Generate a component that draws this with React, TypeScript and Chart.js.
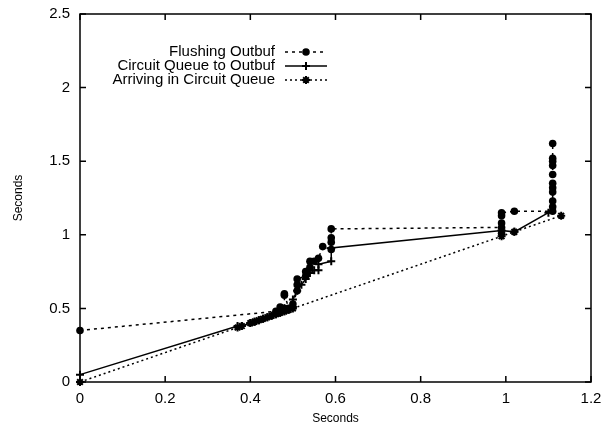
import React, { useEffect, useRef } from 'react';
import { Chart, registerables } from 'chart.js';

Chart.register(...registerables);

// ---- data ----
const seriesNames = ['Flushing Outbuf', 'Circuit Queue to Outbuf', 'Arriving in Circuit Queue'];

const flushingX = [0, 0.46, 0.47, 0.47, 0.48, 0.48, 0.48, 0.49, 0.50, 0.51, 0.51, 0.51, 0.53, 0.53, 0.54, 0.54, 0.55, 0.56, 0.57, 0.59, 0.59, 0.59, 0.59, 0.99, 0.99, 0.99, 0.99, 0.99, 1.02, 1.11, 1.11, 1.11, 1.11, 1.11, 1.11, 1.11, 1.11, 1.11, 1.11, 1.11];
const flushingY = [0.35, 0.48, 0.49, 0.51, 0.50, 0.59, 0.60, 0.50, 0.53, 0.62, 0.66, 0.70, 0.72, 0.75, 0.78, 0.82, 0.82, 0.84, 0.92, 0.90, 0.95, 0.98, 1.04, 1.05, 1.01, 1.08, 1.13, 1.15, 1.16, 1.16, 1.19, 1.23, 1.29, 1.32, 1.35, 1.41, 1.47, 1.50, 1.52, 1.62];

const queueX = [0, 0.37, 0.38, 0.40, 0.41, 0.42, 0.43, 0.44, 0.45, 0.46, 0.47, 0.48, 0.49, 0.50, 0.50, 0.51, 0.52, 0.53, 0.54, 0.55, 0.56, 0.56, 0.59, 0.59, 0.99, 1.02, 1.10];
const queueY = [0.05, 0.38, 0.38, 0.40, 0.41, 0.42, 0.43, 0.44, 0.45, 0.46, 0.47, 0.48, 0.49, 0.51, 0.56, 0.62, 0.66, 0.70, 0.74, 0.76, 0.76, 0.80, 0.82, 0.91, 1.03, 1.02, 1.15];

const arrivingX = [0, 0.37, 0.38, 0.40, 0.41, 0.42, 0.43, 0.44, 0.45, 0.46, 0.47, 0.48, 0.49, 0.50, 0.99, 1.02, 1.13];
const arrivingY = [0, 0.37, 0.38, 0.40, 0.41, 0.42, 0.43, 0.44, 0.45, 0.46, 0.47, 0.48, 0.49, 0.50, 0.99, 1.02, 1.13];

const xTickValues = [0, 0.2, 0.4, 0.6, 0.8, 1, 1.2];
const yTickValues = [0, 0.5, 1, 1.5, 2, 2.5];
const xTitle = 'Seconds';
const yTitle = 'Seconds';

const FONT = "'Liberation Sans', Arial, Helvetica, sans-serif";

const toPoints = (xs: number[], ys: number[]) => xs.map((x, i) => ({ x, y: ys[i] }));

function drawMarker(ctx: CanvasRenderingContext2D, style: string, x: number, y: number, r: number) {
  ctx.beginPath();
  if (style === 'circle') {
    ctx.arc(x, y, r, 0, Math.PI * 2);
    ctx.fill();
    return;
  }
  ctx.moveTo(x - r, y); ctx.lineTo(x + r, y);
  ctx.moveTo(x, y - r); ctx.lineTo(x, y + r);
  if (style === 'star') {
    const d = r * Math.SQRT1_2;
    ctx.moveTo(x - d, y - d); ctx.lineTo(x + d, y + d);
    ctx.moveTo(x - d, y + d); ctx.lineTo(x + d, y - d);
  }
  ctx.stroke();
}

const framePlugin = {
  id: 'gnuFrame',
  afterDatasetsDraw(chart: any) {
    const { ctx, chartArea } = chart;
    const { left, right, top, bottom } = chartArea;
    const xs = chart.scales.x;
    const ys = chart.scales.y;
    ctx.save();
    ctx.strokeStyle = '#000';
    ctx.lineWidth = 1.5;
    ctx.setLineDash([]);
    ctx.strokeRect(left, top, right - left, bottom - top);
    const tl = 6;
    ctx.beginPath();
    xTickValues.forEach((v) => {
      const px = xs.getPixelForValue(v);
      ctx.moveTo(px, bottom); ctx.lineTo(px, bottom - tl);
      ctx.moveTo(px, top); ctx.lineTo(px, top + tl);
    });
    yTickValues.forEach((v) => {
      const py = ys.getPixelForValue(v);
      ctx.moveTo(left, py); ctx.lineTo(left + tl, py);
      ctx.moveTo(right, py); ctx.lineTo(right - tl, py);
    });
    ctx.stroke();

    // legend (gnuplot style: right aligned text, sample on the right)
    const textRight = left + 195;
    const sampleL = left + 205;
    const sampleR = left + 247;
    const row0 = top + 38;
    const rowH = 14;
    ctx.font = `15px ${FONT}`;
    ctx.textAlign = 'right';
    ctx.textBaseline = 'middle';
    ctx.fillStyle = '#000';
    chart.data.datasets.forEach((ds: any, i: number) => {
      const yy = row0 + i * rowH;
      ctx.fillText(ds.label, textRight, yy);
      ctx.lineWidth = ds.borderWidth;
      ctx.setLineDash(ds.borderDash || []);
      ctx.beginPath();
      ctx.moveTo(sampleL, yy); ctx.lineTo(sampleR, yy);
      ctx.stroke();
      ctx.setLineDash([]);
      ctx.lineWidth = ds.pointBorderWidth;
      drawMarker(ctx, ds.pointStyle, (sampleL + sampleR) / 2, yy, ds.pointRadius);
    });
    ctx.restore();
  },
};

export default function App() {
  const ref = useRef<HTMLCanvasElement | null>(null);
  useEffect(() => {
    if (!ref.current) return;
    const common = {
      borderColor: '#000',
      backgroundColor: '#000',
      pointBackgroundColor: '#000',
      pointBorderColor: '#000',
      showLine: true,
      clip: false as any,
      tension: 0,
    };
    const chart = new Chart(ref.current, {
      type: 'scatter',
      data: {
        datasets: [
          {
            ...common,
            label: seriesNames[0],
            data: toPoints(flushingX, flushingY),
            borderWidth: 1.5,
            borderDash: [3, 4],
            pointStyle: 'circle',
            pointRadius: 3.8,
            pointBorderWidth: 0,
          },
          {
            ...common,
            label: seriesNames[1],
            data: toPoints(queueX, queueY),
            borderWidth: 1.5,
            pointStyle: 'cross',
            pointRadius: 4,
            pointBorderWidth: 2,
          },
          {
            ...common,
            label: seriesNames[2],
            data: toPoints(arrivingX, arrivingY),
            borderWidth: 1.5,
            borderDash: [2, 3],
            pointStyle: 'star',
            pointRadius: 4,
            pointBorderWidth: 2,
          },
        ] as any,
      },
      options: {
        animation: false,
        responsive: true,
        maintainAspectRatio: false,
        layout: { padding: { left: 0, right: 22, top: 14, bottom: 0 } },
        plugins: { legend: { display: false }, tooltip: { enabled: false } },
        scales: {
          x: {
            type: 'linear',
            min: 0,
            max: 1.2,
            afterBuildTicks: (s: any) => { s.ticks = xTickValues.map((v) => ({ value: v })); },
            afterFit: (s: any) => { s.height = 44; },
            grid: { display: false },
            border: { display: false },
            ticks: {
              color: '#000',
              font: { family: FONT, size: 15 },
              padding: 0,
              maxRotation: 0,
              callback: (v: any) => String(Math.round(v * 10) / 10),
            },
            title: { display: true, text: xTitle, color: '#000', font: { family: FONT, size: 12 }, padding: { top: 0, bottom: 0 } },
          },
          y: {
            type: 'linear',
            min: 0,
            max: 2.5,
            afterBuildTicks: (s: any) => { s.ticks = yTickValues.map((v) => ({ value: v })); },
            afterFit: (s: any) => { s.width = 80; },
            grid: { display: false },
            border: { display: false },
            ticks: {
              color: '#000',
              font: { family: FONT, size: 15 },
              padding: 2,
              callback: (v: any) => String(Math.round(v * 10) / 10),
            },
            title: { display: true, text: yTitle, color: '#000', font: { family: FONT, size: 12 }, padding: { top: 11, bottom: 0 } },
          },
        },
      },
      plugins: [framePlugin],
    });
    return () => chart.destroy();
  }, []);
  return (
    <div style={{ position: 'absolute', left: 0, top: 0, width: 613, height: 426, background: '#fff' }}>
      <canvas ref={ref} />
    </div>
  );
}
